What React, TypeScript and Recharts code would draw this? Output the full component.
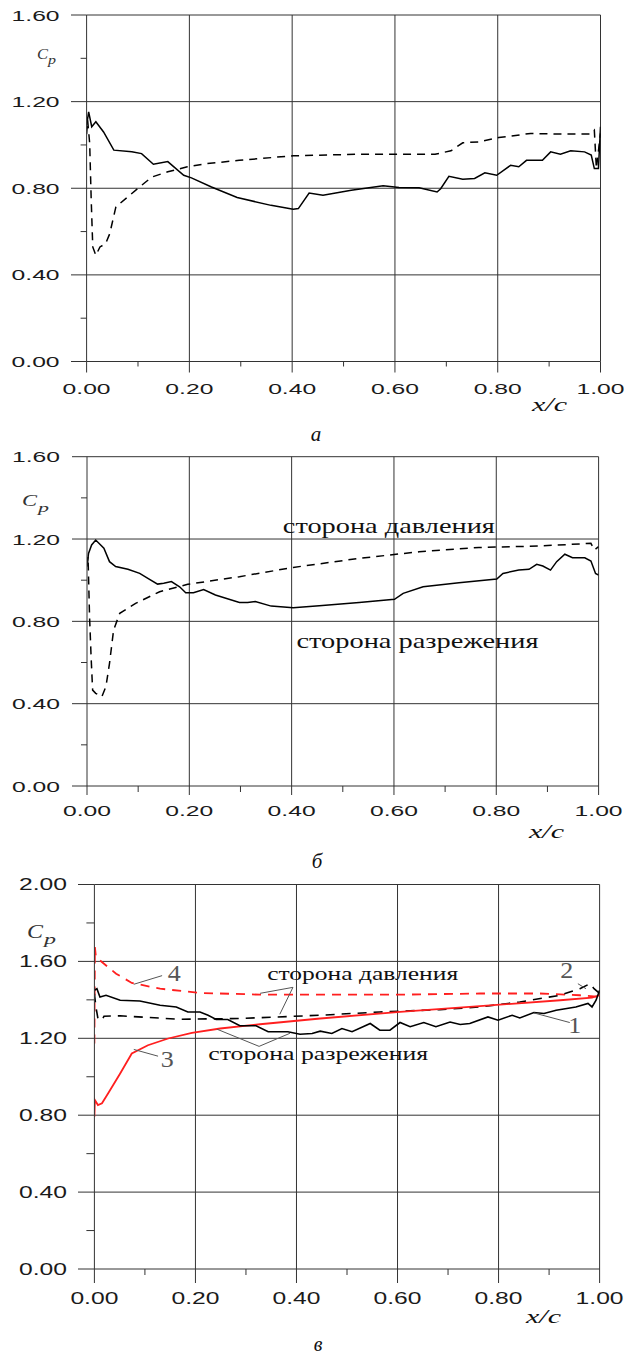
import React from 'react';
import { LineChart, Line, XAxis, YAxis, ReferenceLine, ReferenceDot } from 'recharts';

const SANS = '"Liberation Sans", Arial, sans-serif';
const SERIF = '"Liberation Serif", "Times New Roman", serif';
const GRID = '#333333';
const RED = '#ff1f1f';

// ---------- tick values ----------
const X_TICKS = [0, 0.1, 0.2, 0.3, 0.4, 0.5, 0.6, 0.7, 0.8, 0.9, 1.0];
const X_GRID = [0.2, 0.4, 0.6, 0.8, 1.0];
const Y_TICKS_16 = [0, 0.2, 0.4, 0.6, 0.8, 1.0, 1.2, 1.4, 1.6];
const Y_GRID_16 = [0.4, 0.8, 1.2, 1.6];
const Y_TICKS_20 = [0, 0.2, 0.4, 0.6, 0.8, 1.0, 1.2, 1.4, 1.6, 1.8, 2.0];
const Y_GRID_20 = [0.4, 0.8, 1.2, 1.6, 2.0];

// ---------- panel а ----------
const A_SOLID: [number, number][] = [
  [0, 1.09], [0.004, 1.153], [0.010, 1.084], [0.018, 1.107], [0.033, 1.060], [0.053, 0.976],
  [0.088, 0.968], [0.107, 0.960], [0.130, 0.911], [0.158, 0.923], [0.189, 0.860], [0.204, 0.848],
  [0.243, 0.806], [0.293, 0.757], [0.359, 0.721], [0.402, 0.703], [0.412, 0.706], [0.433, 0.778],
  [0.460, 0.768], [0.515, 0.791], [0.577, 0.811], [0.608, 0.803], [0.647, 0.802], [0.682, 0.783],
  [0.689, 0.798], [0.705, 0.855], [0.732, 0.842], [0.755, 0.845], [0.775, 0.871], [0.798, 0.860],
  [0.825, 0.906], [0.841, 0.899], [0.856, 0.929], [0.887, 0.929], [0.903, 0.968], [0.922, 0.957],
  [0.942, 0.973], [0.969, 0.968], [0.982, 0.953], [0.988, 0.891], [0.996, 0.891], [1.0, 1.084],
];
const A_DASHED: [number, number][] = [
  [0, 1.05], [0.002, 1.114], [0.006, 1.007], [0.009, 0.744], [0.012, 0.529], [0.018, 0.49],
  [0.026, 0.529], [0.037, 0.544], [0.045, 0.59], [0.057, 0.714], [0.08, 0.76], [0.099, 0.798],
  [0.127, 0.852], [0.158, 0.876], [0.196, 0.899], [0.235, 0.914], [0.297, 0.929], [0.402, 0.95],
  [0.53, 0.957], [0.6, 0.957], [0.678, 0.957], [0.709, 0.973], [0.732, 1.01], [0.763, 1.014],
  [0.802, 1.034], [0.864, 1.053], [0.918, 1.05], [0.981, 1.05], [0.988, 1.068], [0.992, 0.891],
  [1.0, 1.053],
];

// ---------- panel б ----------
const B_SOLID: [number, number][] = [
  [0, 1.066], [0.003, 1.130], [0.009, 1.171], [0.017, 1.195], [0.033, 1.155], [0.044, 1.090],
  [0.056, 1.066], [0.080, 1.053], [0.103, 1.033], [0.119, 1.009], [0.138, 0.981], [0.150, 0.985],
  [0.165, 0.993], [0.181, 0.968], [0.193, 0.939], [0.208, 0.939], [0.228, 0.955], [0.251, 0.928],
  [0.298, 0.892], [0.314, 0.892], [0.329, 0.896], [0.360, 0.874], [0.403, 0.866], [0.454, 0.876],
  [0.532, 0.892], [0.601, 0.907], [0.618, 0.936], [0.657, 0.968], [0.727, 0.988], [0.801, 1.006],
  [0.813, 1.033], [0.844, 1.049], [0.864, 1.053], [0.879, 1.077], [0.891, 1.069], [0.906, 1.049],
  [0.918, 1.090], [0.934, 1.126], [0.949, 1.109], [0.973, 1.109], [0.985, 1.093], [0.994, 1.033],
  [1.0, 1.025],
];
const B_DASHED: [number, number][] = [
  [0, 1.074], [0.002, 1.114], [0.005, 0.823], [0.008, 0.628], [0.011, 0.466], [0.017, 0.450],
  [0.029, 0.434], [0.037, 0.483], [0.044, 0.596], [0.052, 0.758], [0.064, 0.839], [0.095, 0.887],
  [0.142, 0.944], [0.197, 0.980], [0.298, 1.017], [0.403, 1.062], [0.532, 1.106], [0.649, 1.138],
  [0.766, 1.159], [0.883, 1.166], [0.985, 1.179], [0.992, 1.147], [1.0, 1.163],
];

// ---------- panel в ----------
const V_CURVE1: [number, number][] = [
  [0, 1.450], [0.005, 1.458], [0.011, 1.415], [0.023, 1.424], [0.051, 1.398], [0.090, 1.394],
  [0.130, 1.372], [0.162, 1.363], [0.185, 1.337], [0.209, 1.337], [0.225, 1.320], [0.241, 1.298],
  [0.264, 1.298], [0.288, 1.265], [0.320, 1.265], [0.344, 1.234], [0.383, 1.234], [0.407, 1.221],
  [0.431, 1.225], [0.447, 1.237], [0.470, 1.225], [0.490, 1.251], [0.510, 1.234], [0.546, 1.277],
  [0.565, 1.242], [0.585, 1.242], [0.605, 1.282], [0.625, 1.260], [0.652, 1.282], [0.676, 1.260],
  [0.704, 1.285], [0.724, 1.272], [0.743, 1.277], [0.779, 1.311], [0.799, 1.294], [0.827, 1.320],
  [0.842, 1.306], [0.870, 1.334], [0.890, 1.329], [0.914, 1.346], [0.953, 1.363], [0.977, 1.381],
  [0.985, 1.363], [0.993, 1.398], [1.0, 1.450],
];
const V_CURVE2: [number, number][] = [
  [0, 1.433], [0.003, 1.363], [0.007, 1.303], [0.015, 1.294], [0.019, 1.315], [0.051, 1.317],
  [0.169, 1.299], [0.288, 1.303], [0.447, 1.320], [0.565, 1.337], [0.684, 1.349], [0.763, 1.363],
  [0.842, 1.389], [0.922, 1.424], [0.961, 1.458], [0.981, 1.484], [0.989, 1.458], [1.0, 1.433],
];
const V_CURVE3: [number, number][] = [
  [0, 0.792], [0.001, 0.879], [0.007, 0.853], [0.015, 0.862], [0.027, 0.913], [0.051, 1.017],
  [0.074, 1.121], [0.106, 1.164], [0.146, 1.199], [0.193, 1.228], [0.249, 1.251], [0.328, 1.273],
  [0.447, 1.303], [0.605, 1.337], [0.763, 1.367], [0.922, 1.398], [0.985, 1.412], [1.0, 1.424],
];
const V_CURVE4: [number, number][] = [
  [0, 1.173], [0.001, 1.675], [0.003, 1.623], [0.019, 1.588], [0.043, 1.536], [0.074, 1.488],
  [0.130, 1.458], [0.209, 1.436], [0.328, 1.427], [0.447, 1.427], [0.605, 1.427], [0.763, 1.433],
  [0.882, 1.433], [0.961, 1.424], [1.0, 1.415],
];

// ---------- annotations ----------
const B_TEXTS: { x: number; y: number; text: string; len: number }[] = [
  { x: 0.590, y: 1.229, text: 'сторона давления', len: 212 },
  { x: 0.646, y: 0.671, text: 'сторона разрежения', len: 242 },
];
const V_TEXTS: { x: number; y: number; text: string; len: number }[] = [
  { x: 0.531, y: 1.501, text: 'сторона давления', len: 191 },
  { x: 0.443, y: 1.086, text: 'сторона разрежения', len: 220 },
];
const V_NUMBERS: { x: number; y: number; text: string }[] = [
  { x: 0.951, y: 1.226, text: '1' },
  { x: 0.935, y: 1.512, text: '2' },
  { x: 0.144, y: 1.049, text: '3' },
  { x: 0.158, y: 1.496, text: '4' },
];
const V_LEADERS: [number, number, number, number][] = [
  [0.941, 1.282, 0.870, 1.332],
  [0.957, 1.484, 0.973, 1.458],
  [0.126, 1.107, 0.078, 1.142],
  [0.134, 1.526, 0.078, 1.481],
  [0.393, 1.465, 0.328, 1.434],
  [0.393, 1.465, 0.367, 1.325],
  [0.326, 1.158, 0.243, 1.247],
  [0.326, 1.158, 0.387, 1.226],
];

const rows = (pts: [number, number][]) => pts.map(([x, cp]) => ({ x, cp }));

type Cfg = {
  yAxisW: number; rightM: number; topM: number; xAxisH: number; yMax: number;
  yTicks: number[]; yGrid: number[];
  yMajor: number; yMinor: number; yGap: number;
  xMajor: number; xMinor: number; xLabelDy: number; fontSize: number; labelLen: number;
};

const isMultiple = (v: number, step: number) => Math.abs(v / step - Math.round(v / step)) < 1e-6;

const makeYTick = (c: Cfg) => (props: any) => {
  const { x, y, payload } = props;
  const v = payload.value as number;
  const major = isMultiple(v, 0.4);
  return (
    <g>
      <line x1={x - (major ? c.yMajor : c.yMinor)} x2={x} y1={y} y2={y} stroke={GRID} strokeWidth={1} />
      {major && (
        <text x={x - c.yGap} y={y + 5.5} textAnchor="end" fontFamily={SANS} fontSize={c.fontSize}
          fill="#1a1a1a" textLength={c.labelLen} lengthAdjust="spacingAndGlyphs">{v.toFixed(2)}</text>
      )}
    </g>
  );
};

const makeXTick = (c: Cfg) => (props: any) => {
  const { x, y, payload } = props;
  const v = payload.value as number;
  const major = isMultiple(v, 0.2);
  return (
    <g>
      <line x1={x} x2={x} y1={y} y2={y + (major ? c.xMajor : c.xMinor)} stroke={GRID} strokeWidth={1} />
      {major && (
        <text x={x} y={y + c.xLabelDy + 5.5} textAnchor="middle" fontFamily={SANS} fontSize={c.fontSize}
          fill="#1a1a1a" textLength={c.labelLen} lengthAdjust="spacingAndGlyphs">{v.toFixed(2)}</text>
      )}
    </g>
  );
};

const textLabel = (text: string, len: number, size: number, fill: string) => (p: any) => (
  <text x={p.viewBox.x} y={p.viewBox.y} textAnchor="middle" fontFamily={SERIF} fontSize={size}
    fill={fill} textLength={len} lengthAdjust="spacingAndGlyphs">{text}</text>
);

function Panel({ c, height, children }: { c: Cfg; height: number; children: React.ReactNode }) {
  return (
    <LineChart width={624} height={height} margin={{ top: c.topM, right: c.rightM, left: 0, bottom: 0 }}>
      <XAxis dataKey="x" type="number" domain={[0, 1]} ticks={X_TICKS} interval={0}
        tick={makeXTick(c)} tickLine={false} tickSize={0} tickMargin={0} height={c.xAxisH}
        axisLine={{ stroke: GRID }} allowDataOverflow />
      <YAxis type="number" domain={[0, c.yMax]} ticks={c.yTicks} interval={0}
        tick={makeYTick(c)} tickLine={false} tickSize={0} tickMargin={0} width={c.yAxisW}
        axisLine={{ stroke: GRID }} allowDataOverflow />
      {X_GRID.map((v) => <ReferenceLine key={'x' + v} x={v} stroke={GRID} strokeWidth={1} />)}
      {c.yGrid.map((v) => <ReferenceLine key={'y' + v} y={v} stroke={GRID} strokeWidth={1} />)}
      {children}
    </LineChart>
  );
}

const CFG_A: Cfg = {
  yAxisW: 86.6, rightM: 23.5, topM: 15, xAxisH: 68.5, yMax: 1.6, yTicks: Y_TICKS_16, yGrid: Y_GRID_16,
  yMajor: 15.6, yMinor: 6, yGap: 27, xMajor: 11, xMinor: 5, xLabelDy: 27, fontSize: 15.5, labelLen: 48,
};
const CFG_B: Cfg = {
  yAxisW: 87, rightM: 25.4, topM: 16.7, xAxisH: 54, yMax: 1.6, yTicks: Y_TICKS_16, yGrid: Y_GRID_16,
  yMajor: 15, yMinor: 6, yGap: 27, xMajor: 9, xMinor: 6, xLabelDy: 24, fontSize: 15.5, labelLen: 48,
};
const CFG_V: Cfg = {
  yAxisW: 94.4, rightM: 24.4, topM: 14.5, xAxisH: 51, yMax: 2.0, yTicks: Y_TICKS_20, yGrid: Y_GRID_20,
  yMajor: 16.4, yMinor: 8, yGap: 27.4, xMajor: 14, xMinor: 6, xLabelDy: 29, fontSize: 16.5, labelLen: 48,
};

export default function App() {
  return (
    <div style={{ position: 'absolute', left: 0, top: 0, width: 624, height: 1358, background: '#fff', overflow: 'hidden' }}>
      <div style={{ position: 'absolute', left: 0, top: 0 }}>
        <Panel c={CFG_A} height={430}>
          <Line data={rows(A_SOLID)} dataKey="cp" stroke="#000" strokeWidth={1.5} dot={false} isAnimationActive={false} />
          <Line data={rows(A_DASHED)} dataKey="cp" stroke="#000" strokeWidth={1.5} strokeDasharray="8 6" dot={false} isAnimationActive={false} />
        </Panel>
      </div>
      <div style={{ position: 'absolute', left: 0, top: 440 }}>
        <Panel c={CFG_B} height={400}>
          <Line data={rows(B_SOLID)} dataKey="cp" stroke="#000" strokeWidth={1.5} dot={false} isAnimationActive={false} />
          <Line data={rows(B_DASHED)} dataKey="cp" stroke="#000" strokeWidth={1.5} strokeDasharray="8 6" dot={false} isAnimationActive={false} />
          {B_TEXTS.map((t) => (
            <ReferenceDot key={t.text} x={t.x} y={t.y} r={0} fill="none" stroke="none"
              label={textLabel(t.text, t.len, 21, '#111')} />
          ))}
        </Panel>
      </div>
      <div style={{ position: 'absolute', left: 0, top: 870 }}>
        <Panel c={CFG_V} height={450}>
          <Line data={rows(V_CURVE4)} dataKey="cp" stroke={RED} strokeWidth={1.8} strokeDasharray="9 7" dot={false} isAnimationActive={false} />
          <Line data={rows(V_CURVE2)} dataKey="cp" stroke="#000" strokeWidth={1.6} strokeDasharray="9 7" dot={false} isAnimationActive={false} />
          <Line data={rows(V_CURVE3)} dataKey="cp" stroke={RED} strokeWidth={1.8} dot={false} isAnimationActive={false} />
          <Line data={rows(V_CURVE1)} dataKey="cp" stroke="#000" strokeWidth={1.6} dot={false} isAnimationActive={false} />
          {V_LEADERS.map((s, i) => (
            <ReferenceLine key={'l' + i} segment={[{ x: s[0], y: s[1] }, { x: s[2], y: s[3] }]}
              stroke="#555" strokeWidth={1} />
          ))}
          {V_TEXTS.map((t) => (
            <ReferenceDot key={t.text} x={t.x} y={t.y} r={0} fill="none" stroke="none"
              label={textLabel(t.text, t.len, 19, '#111')} />
          ))}
          {V_NUMBERS.map((t) => (
            <ReferenceDot key={'n' + t.text} x={t.x} y={t.y} r={0} fill="none" stroke="none"
              label={textLabel(t.text, 13, 23, '#555')} />
          ))}
        </Panel>
      </div>
      <svg width={624} height={1358} style={{ position: 'absolute', left: 0, top: 0, pointerEvents: 'none' }}>
        <g fontFamily={SERIF} fontStyle="italic" fill="#333">
          <text x={37} y={59} fontSize={15} textLength={11} lengthAdjust="spacingAndGlyphs">C</text>
          <text x={48} y={64} fontSize={12} textLength={8} lengthAdjust="spacingAndGlyphs">p</text>
          <text x={22} y={506} fontSize={16} textLength={15} lengthAdjust="spacingAndGlyphs">C</text>
          <text x={38} y={512} fontSize={13} textLength={11} lengthAdjust="spacingAndGlyphs">p</text>
          <text x={27} y={938} fontSize={19} textLength={16} lengthAdjust="spacingAndGlyphs">C</text>
          <text x={44} y={944} fontSize={15} textLength={12} lengthAdjust="spacingAndGlyphs">p</text>
        </g>
        <g fontFamily={SERIF} fontStyle="italic" fill="#111">
          <text x={532} y={411} fontSize={18} textLength={35} lengthAdjust="spacingAndGlyphs">x/c</text>
          <text x={529} y={838} fontSize={18} textLength={35} lengthAdjust="spacingAndGlyphs">x/c</text>
          <text x={526} y={1323} fontSize={19} textLength={35} lengthAdjust="spacingAndGlyphs">x/c</text>
          <text x={316} y={441} fontSize={21} textAnchor="middle">а</text>
          <text x={317} y={868} fontSize={21} textAnchor="middle">б</text>
          <text x={318} y={1351} fontSize={20} textAnchor="middle">в</text>
        </g>
      </svg>
    </div>
  );
}
